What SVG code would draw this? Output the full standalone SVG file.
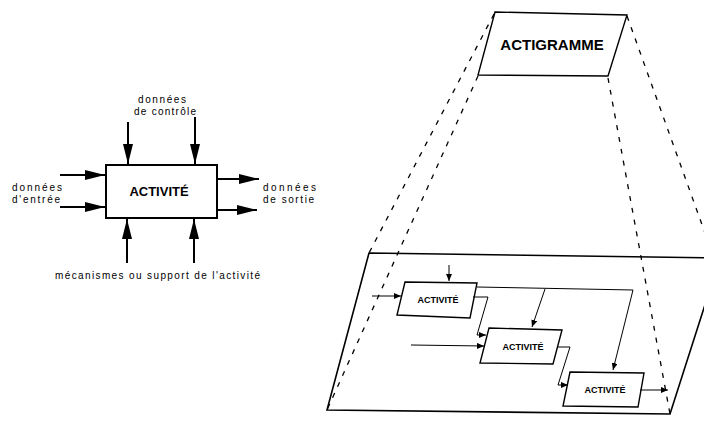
<svg xmlns="http://www.w3.org/2000/svg" width="704" height="428" viewBox="0 0 704 428">
<defs>
<style>
.t{font-family:"Liberation Sans",Arial,sans-serif;font-size:10px;fill:#000}
.b{font-family:"Liberation Sans",Arial,sans-serif;font-weight:bold;fill:#000}
.ln{fill:none;stroke:#000;stroke-width:2}
.th{fill:none;stroke:#000;stroke-width:1}
.bx{fill:#fff;stroke:#000;stroke-width:1.4}
.ds{fill:none;stroke:#000;stroke-width:1.3;stroke-dasharray:5 7}
</style>
<marker id="big" markerUnits="userSpaceOnUse" markerWidth="20" markerHeight="10" refX="20" refY="5" orient="auto">
<path d="M0,0 L20,5 L0,10 z" fill="#000"/>
</marker>
<marker id="sm" markerUnits="userSpaceOnUse" markerWidth="7" markerHeight="6" refX="7" refY="3" orient="auto">
<path d="M0,0 L7,3 L0,6 z" fill="#000"/>
</marker>
</defs>
<rect width="704" height="428" fill="#fff"/>

<g id="activite-main">
<rect x="106" y="165" width="111" height="53" fill="#fff" stroke="#000" stroke-width="2"/>
<text class="b" x="159" y="196" font-size="13" text-anchor="middle">ACTIVITÉ</text>
</g>
<g id="labels-left">
<text class="t" x="12" y="190.5" textLength="50" lengthAdjust="spacing">données</text>
<text class="t" x="12" y="202.5" textLength="48" lengthAdjust="spacing">d'entrée</text>
<text class="t" x="263" y="191" textLength="53" lengthAdjust="spacing">données</text>
<text class="t" x="263" y="203" textLength="51" lengthAdjust="spacing">de sortie</text>
<text class="t" x="138" y="102.5" textLength="48" lengthAdjust="spacing">données</text>
<text class="t" x="134" y="114.5" textLength="62" lengthAdjust="spacing">de contrôle</text>
<text class="t" x="55" y="279" textLength="205" lengthAdjust="spacing">mécanismes ou support de l'activité</text>
</g>

<g id="actigramme">
<polygon class="bx" points="495,12 627,15 608,76 478,75" stroke-width="1.8"/>
<text class="b" x="552" y="49.5" font-size="15" text-anchor="middle">ACTIGRAMME</text>
</g>

<g id="plan">
<polygon points="369,253 720,258 670,414 327,410" fill="none" stroke="#000" stroke-width="1.6"/>
</g>

<g id="projection">
<line class="ds" x1="494" y1="14" x2="369" y2="253"/>
<line class="ds" x1="478" y1="76" x2="327" y2="410"/>
<line class="ds" x1="627" y1="16" x2="714" y2="258"/>
<line class="ds" x1="608" y1="78" x2="670" y2="414"/>
</g>

<g id="activite-1">
<polygon class="bx" points="405,282 477,283 470,318 397,315"/>
<text class="b" x="438" y="303" font-size="9" text-anchor="middle">ACTIVITÉ</text>
</g>
<g id="activite-2">
<polygon class="bx" points="489,328 562,330 553,364 480,363"/>
<text class="b" x="523" y="350" font-size="9" text-anchor="middle">ACTIVITÉ</text>
</g>
<g id="activite-3">
<polygon class="bx" points="570,372 644,373 638,407 563,406"/>
<text class="b" x="605" y="393" font-size="9" text-anchor="middle">ACTIVITÉ</text>
</g>

<g id="connectors">
<line class="ln" x1="60" y1="175" x2="105" y2="175" marker-end="url(#big)"/>
<line class="ln" x1="60" y1="207" x2="105" y2="207" marker-end="url(#big)"/>
<line class="ln" x1="217" y1="179" x2="259" y2="179" marker-end="url(#big)"/>
<line class="ln" x1="217" y1="210" x2="257" y2="210" marker-end="url(#big)"/>
<line class="ln" x1="128" y1="122" x2="128" y2="164" marker-end="url(#big)"/>
<line class="ln" x1="195" y1="117" x2="195" y2="164" marker-end="url(#big)"/>
<line class="ln" x1="127" y1="263" x2="127" y2="219" marker-end="url(#big)"/>
<line class="ln" x1="194" y1="263" x2="194" y2="219" marker-end="url(#big)"/>

<line class="th" x1="372" y1="296" x2="401" y2="296" marker-end="url(#sm)"/>
<line class="th" x1="449" y1="265" x2="449" y2="281" marker-end="url(#sm)"/>
<polyline class="th" points="473,297 488,297 477,335 486,335" marker-end="url(#sm)"/>
<polyline class="th" points="477,287 633,290 613,370" marker-end="url(#sm)"/>
<line class="th" x1="545" y1="289" x2="532" y2="327" marker-end="url(#sm)"/>
<line class="th" x1="411" y1="345" x2="484" y2="346" marker-end="url(#sm)"/>
<polyline class="th" points="557,347 570,347 558,385 568,385" marker-end="url(#sm)"/>
<line class="th" x1="640" y1="390" x2="668" y2="390" marker-end="url(#sm)"/>
</g>
</svg>
